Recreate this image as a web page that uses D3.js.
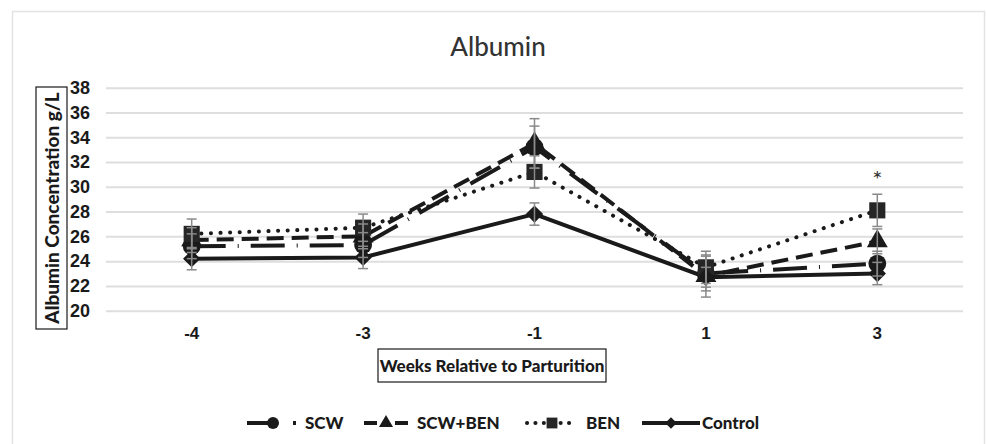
<!DOCTYPE html>
<html>
<head>
<meta charset="utf-8">
<script src="https://cdn.jsdelivr.net/npm/d3@7"></script>
<style>
    body { margin: 0; background: #fff; }
    svg { display: block; font-family: Lato, "Open Sans", sans-serif; }
</style>
</head>
<body>
<svg id="chart"></svg>
<script>
// chart data
const weeks = ['-4', '-3', '-1', '1', '3'];
const yTicks = [20, 22, 24, 26, 28, 30, 32, 34, 36, 38];

const scwMean = [25.2, 25.3, 33.2, 23.0, 23.8];
const scwErr = [1.0, 1.0, 1.7, 1.4, 1.0];
const scwBenMean = [25.7, 26.0, 33.5, 22.8, 25.6];
const scwBenErr = [1.0, 1.0, 2.0, 1.7, 1.0];
const benMean = [26.2, 26.7, 31.2, 23.5, 28.1];
const benErr = [1.2, 1.1, 1.3, 1.3, 1.3];
const controlMean = [24.2, 24.3, 27.8, 22.7, 23.0];
const controlErr = [0.9, 0.9, 0.9, 0.8, 0.9];

const seriesNames = ['SCW', 'SCW+BEN', 'BEN', 'Control'];
const significance = [{ week: '3', value: 30.7, label: '*' }];

class LineChart {

    constructor( config, series ) {
        this.config = {
            parent: config.parent,
            width: config.width || 986,
            height: config.height || 444,
            margin: config.margin,
            title: config.title || ''
        }
        this.series = series;
        this.init();
    }

    init() {
        let self = this;
        let m = self.config.margin;

        self.svg = d3.select( self.config.parent )
            .attr('width', self.config.width)
            .attr('height', self.config.height);

        self.inner_width = self.config.width - m.left - m.right;
        self.inner_height = self.config.height - m.top - m.bottom;

        self.xscale = d3.scaleBand()
            .domain(weeks)
            .range([m.left, m.left + self.inner_width])
            .padding(0);

        self.yscale = d3.scaleLinear()
            .domain([20, 38])
            .range([m.top + self.inner_height, m.top]);
    }

    render() {
        let self = this;
        let m = self.config.margin;
        let cx = d => self.xscale(d) + self.xscale.bandwidth() / 2;

        // outer border
        self.svg.append('rect')
            .attr('x', 12.5).attr('y', 11.5)
            .attr('width', 972).attr('height', 440)
            .attr('fill', 'none')
            .attr('stroke', '#e3e3e3')
            .attr('stroke-width', 1.5);

        // grid + y tick labels
        let yaxis = d3.axisLeft(self.yscale)
            .tickValues(yTicks)
            .tickSize(-self.inner_width)
            .tickPadding(16);

        let yg = self.svg.append('g')
            .attr('transform', `translate(${m.left}, 0)`)
            .call(yaxis);
        yg.select('.domain').remove();
        yg.selectAll('.tick line')
            .attr('stroke', '#dedede')
            .attr('stroke-width', 2);
        yg.selectAll('.tick text')
            .attr('x', -16)
            .attr('fill', '#1a1a1a')
            .style('font-size', '18px')
            .style('font-weight', '900');

        // x tick labels
        let xaxis = d3.axisBottom(self.xscale)
            .tickSize(0)
            .tickPadding(16);
        let xg = self.svg.append('g')
            .attr('transform', `translate(0, ${m.top + self.inner_height})`)
            .call(xaxis);
        xg.select('.domain').remove();
        xg.selectAll('.tick text')
            .attr('fill', '#1a1a1a')
            .style('font-size', '17px')
            .style('font-weight', '900');

        // title
        self.svg.append('text')
            .attr('x', 498).attr('y', 56)
            .attr('text-anchor', 'middle')
            .attr('fill', '#333')
            .style('font-size', '26px')
            .style('font-weight', '500')
            .text(self.config.title);

        // boxed axis titles
        let ytitle = self.svg.append('g')
            .attr('transform', 'translate(58, 208) rotate(-90)');
        ytitle.append('rect')
            .attr('x', -121).attr('y', -22)
            .attr('width', 242).attr('height', 31)
            .attr('fill', 'none').attr('stroke', '#1a1a1a').attr('stroke-width', 1.2);
        ytitle.append('text')
            .attr('text-anchor', 'middle')
            .attr('y', 1)
            .attr('fill', '#1a1a1a')
            .style('font-size', '19px')
            .style('font-weight', '900')
            .text('Albumin Concentration g/L');

        let xtitle = self.svg.append('g')
            .attr('transform', 'translate(492, 372)');
        xtitle.append('rect')
            .attr('x', -114).attr('y', -23)
            .attr('width', 228).attr('height', 33)
            .attr('fill', 'none').attr('stroke', '#1a1a1a').attr('stroke-width', 1.2);
        xtitle.append('text')
            .attr('text-anchor', 'middle')
            .attr('fill', '#1a1a1a')
            .style('font-size', '17px')
            .style('font-weight', '900')
            .text('Weeks Relative to Parturition');

        // lines
        let line = d3.line()
            .x(d => cx(d.week))
            .y(d => self.yscale(d.value));

        self.svg.selectAll('path.series')
            .data(self.series)
            .enter()
            .append('path')
            .attr('class', 'series')
            .attr('d', s => line(s.points))
            .attr('fill', 'none')
            .attr('stroke', '#1a1a1a')
            .attr('stroke-width', 4)
            .attr('stroke-linecap', s => s.cap)
            .attr('stroke-dasharray', s => s.dash);

        // markers
        self.series.forEach(s => {
            self.svg.selectAll(null)
                .data(s.points)
                .enter()
                .append('path')
                .attr('d', d3.symbol().type(s.symbol).size(s.size))
                .attr('transform', d => `translate(${cx(d.week)}, ${self.yscale(d.value)}) rotate(${s.rotate})`)
                .attr('fill', s.fill);
        });

        // error bars
        self.series.forEach(s => {
            let g = self.svg.selectAll(null)
                .data(s.points)
                .enter()
                .append('g')
                .attr('stroke', '#8a8a8a')
                .attr('stroke-width', 1.5);
            g.append('line')
                .attr('x1', d => cx(d.week)).attr('x2', d => cx(d.week))
                .attr('y1', d => self.yscale(d.value - d.err))
                .attr('y2', d => self.yscale(d.value + d.err));
            [-1, 1].forEach(k => {
                g.append('line')
                    .attr('x1', d => cx(d.week) - 5).attr('x2', d => cx(d.week) + 5)
                    .attr('y1', d => self.yscale(d.value + k * d.err))
                    .attr('y2', d => self.yscale(d.value + k * d.err));
            });
        });

        // significance
        self.svg.selectAll('text.sig')
            .data(significance)
            .enter()
            .append('text')
            .attr('class', 'sig')
            .attr('x', d => cx(d.week))
            .attr('y', d => self.yscale(d.value) + 10)
            .attr('text-anchor', 'middle')
            .attr('fill', '#333')
            .style('font-size', '24px')
            .text(d => d.label);

        // legend
        let lg = self.svg.selectAll('g.legend')
            .data(self.series)
            .enter()
            .append('g')
            .attr('class', 'legend')
            .attr('transform', s => `translate(${s.legend.x}, 423)`);
        lg.append('line')
            .attr('x1', s => -s.legend.w / 2).attr('x2', s => s.legend.w / 2)
            .attr('stroke', '#1a1a1a')
            .attr('stroke-width', 4)
            .attr('stroke-linecap', s => s.cap)
            .attr('stroke-dasharray', s => s.legend.dash);
        lg.append('path')
            .attr('d', s => d3.symbol().type(s.symbol).size(s.size * 0.45)())
            .attr('transform', s => `rotate(${s.rotate})`)
            .attr('fill', s => s.fill);
        lg.append('text')
            .attr('x', s => s.legend.w / 2 + s.legend.gap)
            .attr('y', 6)
            .attr('fill', '#1a1a1a')
            .style('font-size', '17px')
            .style('font-weight', '900')
            .text(s => s.name);
    }

}

let means = [scwMean, scwBenMean, benMean, controlMean];
let errs = [scwErr, scwBenErr, benErr, controlErr];
let styles = [
    { symbol: d3.symbolCircle, size: 250, rotate: 0, fill: '#1a1a1a', dash: '34,12,1,12', cap: 'butt',
      legend: { x: 273, w: 52, gap: 6, dash: '22,24,3,40' } },
    { symbol: d3.symbolTriangle, size: 190, rotate: 0, fill: '#1a1a1a', dash: '17,8', cap: 'butt',
      legend: { x: 386, w: 44, gap: 9, dash: '13,18,13' } },
    { symbol: d3.symbolSquare, size: 260, rotate: 0, fill: '#262626', dash: '0.1,9.5', cap: 'round',
      legend: { x: 552, w: 50, gap: 9, dash: '0.1,8.3' } },
    { symbol: d3.symbolSquare, size: 150, rotate: 45, fill: '#1a1a1a', dash: null, cap: 'butt',
      legend: { x: 671, w: 58, gap: 2, dash: null } }
];

let series = seriesNames.map((name, i) => Object.assign({
    name: name,
    points: weeks.map((w, j) => ({ week: w, value: means[i][j], err: errs[i][j] }))
}, styles[i]));

let chart = new LineChart({
    parent: '#chart',
    width: 986,
    height: 444,
    margin: { top: 87.7, right: 23, bottom: 133.3, left: 106 },
    title: 'Albumin'
}, series);
chart.render();
</script>
</body>
</html>
